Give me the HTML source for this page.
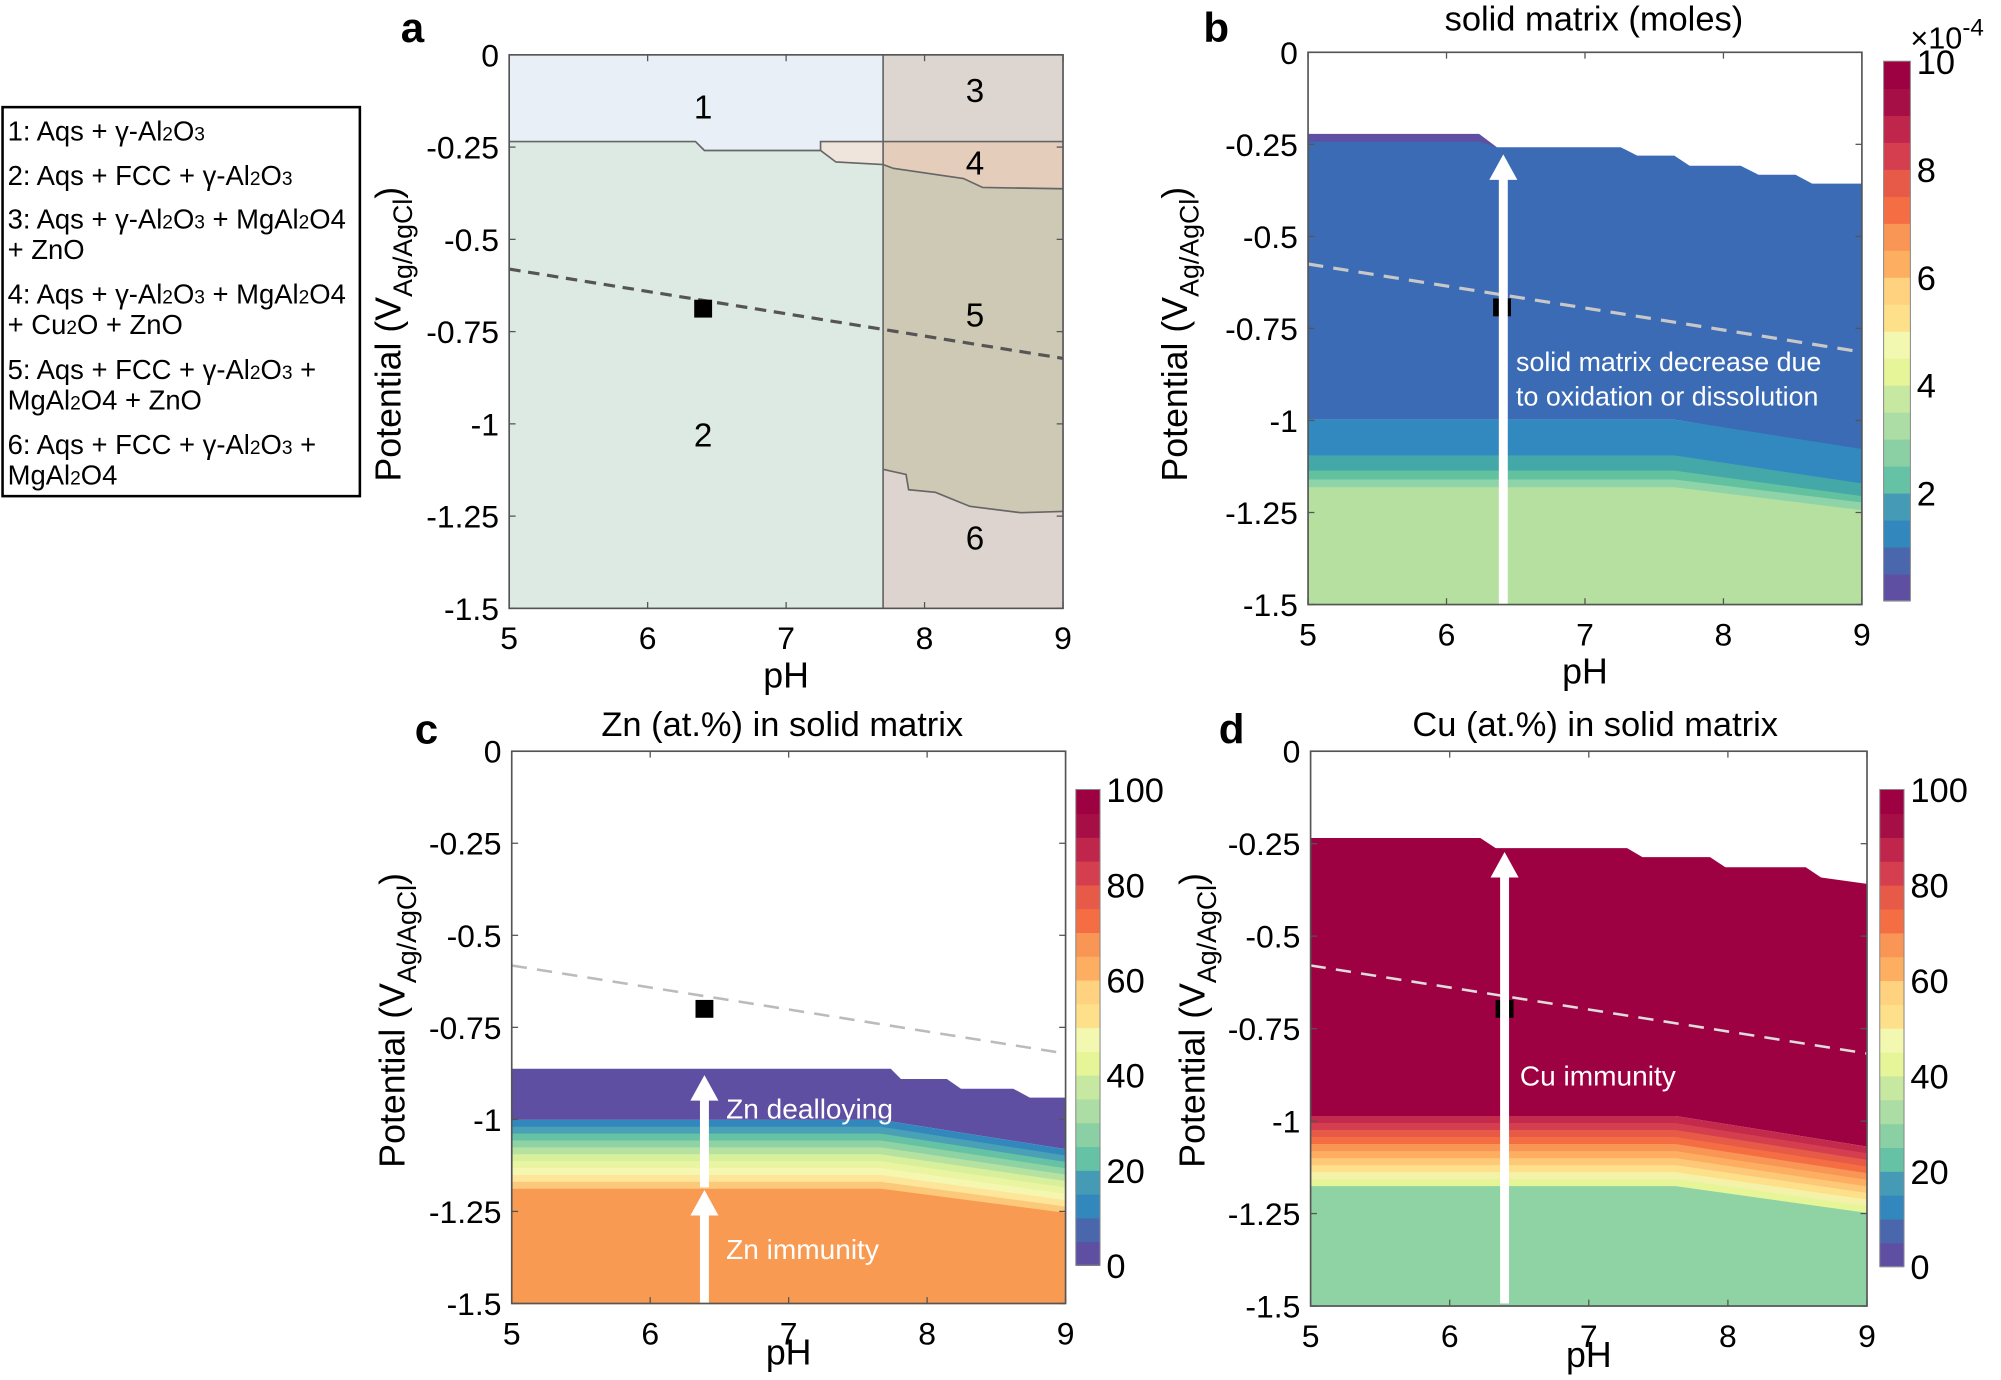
<!DOCTYPE html>
<html><head><meta charset="utf-8"><style>
html,body{margin:0;padding:0;background:#fff;}
svg{display:block;}
text{font-family:"Liberation Sans",sans-serif;}
</style></head><body>
<svg id="s" width="2001" height="1380" viewBox="0 0 1568 1082" preserveAspectRatio="none" xmlns="http://www.w3.org/2000/svg">
<rect x="2" y="84" width="280" height="305" fill="#fff" stroke="#000" stroke-width="2"/>
<g font-size="21.5" fill="#000">
<text x="6" y="110">1: Aqs + γ-Al<tspan font-size="15">2</tspan>O<tspan font-size="15">3</tspan></text>
<text x="6" y="145">2: Aqs + FCC + γ-Al<tspan font-size="15">2</tspan>O<tspan font-size="15">3</tspan></text>
<text x="6" y="179">3: Aqs + γ-Al<tspan font-size="15">2</tspan>O<tspan font-size="15">3</tspan> + MgAl<tspan font-size="15">2</tspan>O4</text>
<text x="6" y="203">+ ZnO</text>
<text x="6" y="238">4: Aqs + γ-Al<tspan font-size="15">2</tspan>O<tspan font-size="15">3</tspan> + MgAl<tspan font-size="15">2</tspan>O4</text>
<text x="6" y="262">+ Cu<tspan font-size="15">2</tspan>O + ZnO</text>
<text x="6" y="297">5: Aqs + FCC + γ-Al<tspan font-size="15">2</tspan>O<tspan font-size="15">3</tspan> +</text>
<text x="6" y="321">MgAl<tspan font-size="15">2</tspan>O4 + ZnO</text>
<text x="6" y="356">6: Aqs + FCC + γ-Al<tspan font-size="15">2</tspan>O<tspan font-size="15">3</tspan> +</text>
<text x="6" y="380">MgAl<tspan font-size="15">2</tspan>O4</text>
</g>
<rect x="399" y="43" width="434" height="434" fill="#dde9e3"/>
<polygon points="399,43 692,43 692,111 643,111 643,118 552,118 545,111 399,111" fill="#e8eff7"/>
<polygon points="643,111 692,111 692,129 655,127 643,118" fill="#f0e5dc"/>
<rect x="692" y="43" width="141" height="68" fill="#ddd5d0"/>
<polygon points="692,111 833,111 833,148 770,147 755,140 700,132 692,129" fill="#e5cdbc"/>
<polygon points="692,129 700,132 755,140 770,147 833,148 833,401 800,402 760,397 733,386 712,384 710,372 692,368" fill="#cdc9b5"/>
<polygon points="692,368 710,372 712,384 733,386 760,397 800,402 833,401 833,477 692,477" fill="#ddd4d0"/>
<g fill="none" stroke="#666" stroke-width="1.3">
<polyline points="399,111 545,111 552,118 643,118 655,127 692,129 700,132 755,140 770,147 833,148"/>
<polyline points="643,118 643,111 833,111"/>
<line x1="692" y1="43" x2="692" y2="477"/>
<polyline points="692,368 710,372 712,384 733,386 760,397 800,402 833,401"/>
</g>
<line x1="399" y1="211" x2="833" y2="281" stroke="#555" stroke-width="2.5" stroke-dasharray="9,6"/>
<rect x="544" y="235" width="14" height="14" fill="#000"/>
<g font-size="26" text-anchor="middle"><text x="551" y="93">1</text><text x="764" y="80">3</text><text x="764" y="137">4</text><text x="764" y="256">5</text><text x="551" y="350">2</text><text x="764" y="431">6</text></g>
<g id="plots"></g>
</svg>
<script>
var NS="http://www.w3.org/2000/svg",g=document.getElementById('plots');
function el(t,a,txt){var e=document.createElementNS(NS,t);for(var k in a)e.setAttribute(k,a[k]);if(txt!=null)e.textContent=txt;g.appendChild(e);return e;}
var spec=["#5e4fa2","#4a67ad","#3288bd","#459bb5","#66c2a5","#8bd0a4","#abdda4","#c6e8a0","#e6f598","#f3f8b0","#fee08b","#fed27f","#fdae61","#f99555","#f46d43","#e75a48","#d53e4f","#c0254c","#a50f45","#9e0142"];
function axes(L,T,W,H,lx,ly,xl){
  el('rect',{x:L,y:T,width:W,height:H,fill:'none',stroke:'#555','stroke-width':1.3});
  var yl=["0","-0.25","-0.5","-0.75","-1","-1.25","-1.5"];
  for(var i=0;i<7;i++){var y=T+H*i/6;el('line',{x1:L,y1:y,x2:L+5,y2:y,stroke:'#555'});el('line',{x1:L+W,y1:y,x2:L+W-5,y2:y,stroke:'#555'});
    el('text',{x:L-8,y:y+9,'font-size':25,'text-anchor':'end'},yl[i]);}
  for(var j=0;j<5;j++){var x=L+W*j/4;el('line',{x1:x,y1:T,x2:x,y2:T+5,stroke:'#555'});el('line',{x1:x,y1:T+H,x2:x,y2:T+H-5,stroke:'#555'});
    el('text',{x:x,y:T+H+32,'font-size':25,'text-anchor':'middle'},String(5+j));}
  el('text',{x:L+W/2,y:T+H+xl,'font-size':28,'text-anchor':'middle'},'pH');
  var t=el('text',{x:0,y:0,'font-size':28,'text-anchor':'middle',transform:'translate('+lx+','+ly+') rotate(-90)'});
  t.innerHTML='Potential (V<tspan font-size="21" dy="9">Ag/AgCl</tspan><tspan dy="-9">)</tspan>';
}
function bands(L,W,knee,bounds,cols){
  var R=L+W;
  for(var i=0;i<cols.length;i++){var a=bounds[i],b=bounds[i+1];
    el('polygon',{points:[L,a[0],knee,a[0],R,a[1],R,b[1]+0.6,knee,b[0]+0.6,L,b[0]+0.6].join(' '),fill:cols[i]});}
}
function cbar(x,y,w,h,labels){
  for(var i=0;i<20;i++){el('rect',{x:x,y:y+h-(i+1)*h/20,width:w,height:h/20+0.6,fill:spec[i]});}
  el('rect',{x:x,y:y,width:w,height:h,fill:'none',stroke:'#888','stroke-width':0.8});
  labels.forEach(function(l){el('text',{x:x+w+5,y:y+h-l[0]*h+10,'font-size':27},l[1]);});
}
function arrow(x,y1,y2){el('rect',{x:x-3.5,y:y2+18,width:7,height:y1-y2-18,fill:'#fff'});el('polygon',{points:(x-11)+','+(y2+20)+' '+x+','+y2+' '+(x+11)+','+(y2+20),fill:'#fff'});}
(function(){var L=1025,T=41,W=434,H=433;
 el('rect',{x:L,y:T,width:W,height:H,fill:'#fff'});
 el('polygon',{points:'1025,105 1159,105 1173,115.5 1025,115.5',fill:'#5e4fa2'});
 el('polygon',{points:'1025,111 1159,111 1173,115.5 1270,115.5 1283,122 1312,122 1324,130 1364,130 1378,137 1407,137 1420,144 1459,144 1459,353 1312,329 1025,329',fill:'#3b6bb5'});
 bands(L,W,1312,[[329,352],[357,379],[369,389],[376,394],[382,400],[474,474]],["#3189bf","#45a8a8","#62c2a0","#8fd4a8","#b6e0a0"]);
 el('line',{x1:1025,y1:207,x2:1459,y2:276,stroke:'#c8c8c8','stroke-width':2.5,'stroke-dasharray':'12,8'});
 el('rect',{x:1170,y:234,width:14,height:14,fill:'#000'});
 arrow(1178,474,121);
 el('text',{x:1188,y:291,'font-size':21,fill:'#fff'},'solid matrix decrease due');
 el('text',{x:1188,y:318,'font-size':21,fill:'#fff'},'to oxidation or dissolution');
 axes(L,T,W,H,930,262,62);
 el('text',{x:1249,y:24,'font-size':27,'text-anchor':'middle'},'solid matrix (moles)');
 el('text',{x:943,y:33,'font-size':33,'font-weight':'bold'},'b');
 cbar(1476,48,21,423,[[0.2,'2'],[0.4,'4'],[0.6,'6'],[0.8,'8'],[1.0,'10']]);
 var t=el('text',{x:1497,y:38,'font-size':24});t.innerHTML='×10<tspan font-size="19" dy="-10">-4</tspan>';
})();
axes(399,43,434,434,314,262,62);
el('text',{x:314,y:33,'font-size':33,'font-weight':'bold'},'a');
(function(){var L=401,T=589,W=434,H=433;
 var top='401,838 698,838 706,846 742,846 753,853.6 794,853.6 807,860.6 835,860.6';
 el('polygon',{points:top+' 835,901 690,878 401,878',fill:'#5e4fa2'});
 var b=[],cols=["#3288bd","#4aa0b5","#66c2a5","#8fd3a4","#b6e2a1","#d8ef9c","#e9f5a0","#f5f6b0","#fde69a","#fcc97a"];
 for(var i=0;i<=10;i++)b.push([878+5.4*i,901+5*i]);
 b.push([1022,1022]);cols.push("#f99a52");
 bands(L,W,690,b,cols);
 el('line',{x1:401,y1:757,x2:835,y2:826,stroke:'#bbb','stroke-width':2,'stroke-dasharray':'12,8'});
 el('rect',{x:545,y:784,width:14,height:14,fill:'#000'});
 arrow(552,931,843);arrow(552,1022,933);
 el('text',{x:569,y:877,'font-size':22,fill:'#fff'},'Zn dealloying');
 el('text',{x:569,y:987,'font-size':22,fill:'#fff'},'Zn immunity');
 axes(L,T,W,H,317,800,48);
 el('text',{x:613,y:577,'font-size':27,'text-anchor':'middle'},'Zn (at.%) in solid matrix');
 el('text',{x:325,y:583,'font-size':33,'font-weight':'bold'},'c');
 cbar(843,619,19,373,[[0,'0'],[0.2,'20'],[0.4,'40'],[0.6,'60'],[0.8,'80'],[1,'100']]);
})();
(function(){var L=1027,T=589,W=436,H=435;
 el('rect',{x:L,y:T,width:W,height:H,fill:'#fff'});
 el('polygon',{points:'1027,657 1160,657 1172,665 1275,665 1287,672 1340,672 1352,680 1415,680 1427,688 1463,693 1463,899 1313,875 1027,875',fill:'#9e0142'});
 var b=[],cols=["#c42a4c","#d53e4f","#e75a48","#f46d43","#f99555","#fdae61","#fdc877","#fee08b","#f3f2a8","#e6f598"];
 for(var i=0;i<=10;i++)b.push([875+5.5*i,899+5.2*i]);
 b.push([1024,1024]);cols.push("#8fd3a4");
 bands(L,W,1313,b,cols);
 el('line',{x1:1027,y1:757,x2:1463,y2:826,stroke:'#ddd','stroke-width':2,'stroke-dasharray':'12,8'});
 el('rect',{x:1172,y:784,width:14,height:14,fill:'#000'});
 arrow(1179,1022,668);
 el('text',{x:1191,y:851,'font-size':22,fill:'#fff'},'Cu immunity');
 axes(L,T,W,H,944,800,48);
 el('text',{x:1250,y:577,'font-size':27,'text-anchor':'middle'},'Cu (at.%) in solid matrix');
 el('text',{x:955,y:583,'font-size':33,'font-weight':'bold'},'d');
 cbar(1473,619,19,374,[[0,'0'],[0.2,'20'],[0.4,'40'],[0.6,'60'],[0.8,'80'],[1,'100']]);
})();
</script>
</body></html>
